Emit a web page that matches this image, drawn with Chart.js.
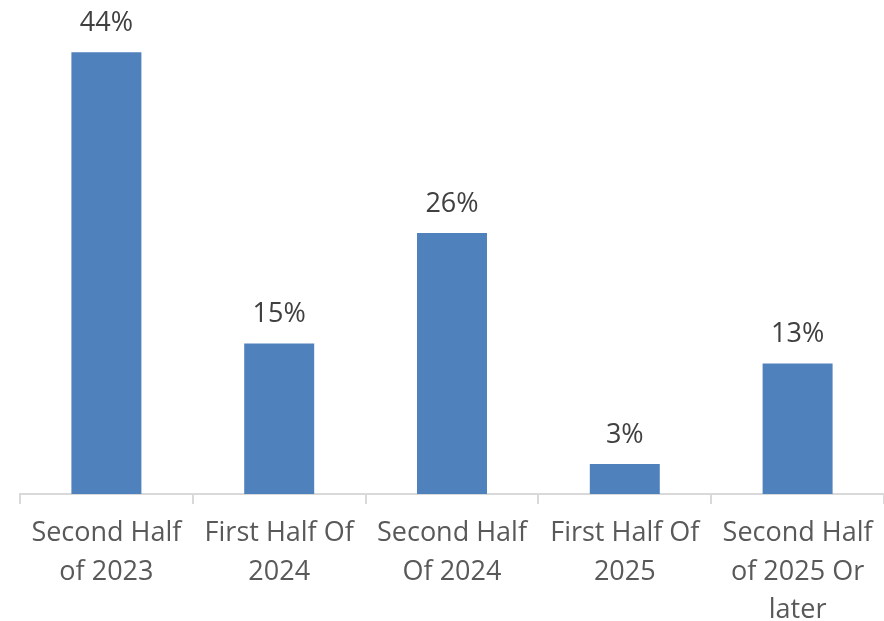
<!DOCTYPE html>
<html>
<head>
<meta charset="utf-8">
<script src="https://cdn.jsdelivr.net/npm/chart.js@4/dist/chart.umd.min.js"></script>
<style>
  body { margin: 0; background: #fff; }
  #wrap { width: 884px; height: 621px; }
</style>
</head>
<body>
<div id="wrap"><canvas id="myBarChart" width="884" height="621"></canvas></div>
<script>
// timeline buckets and share of answers
const periods = [
    ['Second Half', 'of 2023'],
    ['First Half Of', '2024'],
    ['Second Half', 'Of 2024'],
    ['First Half Of', '2025'],
    ['Second Half', 'of 2025 Or', 'later']
];
const shares = [44, 15, 26, 3, 13];

const FONT = "'Open Sans', 'Noto Sans', sans-serif";

// draws the "44%" style labels on top of each bar
const valueLabels = {
    id: 'valueLabels',
    afterDatasetsDraw(chart) {
        const ctx = chart.ctx;
        const meta = chart.getDatasetMeta(0);
        ctx.save();
        ctx.font = '27px ' + FONT;
        ctx.fillStyle = '#404040';
        ctx.textAlign = 'center';
        ctx.textBaseline = 'alphabetic';
        meta.data.forEach((bar, i) => {
            ctx.fillText(shares[i] + '%', bar.x, bar.y - 21);
        });
        ctx.restore();
    }
};

var ctx = document.getElementById('myBarChart').getContext('2d');

var myBarChart = new Chart(ctx, {
    type: 'bar',
    data: {
        labels: periods,
        datasets: [{
            data: shares,
            backgroundColor: '#4f81bd',
            borderWidth: 0,
            categoryPercentage: 1,
            barPercentage: 0.405
        }]
    },
    options: {
        responsive: false,
        animation: false,
        layout: { padding: { left: 20, right: 0, top: 0, bottom: 0 } },
        plugins: {
            legend: { display: false },
            tooltip: { enabled: false }
        },
        scales: {
            x: {
                grid: {
                    display: true,
                    drawOnChartArea: false,
                    drawTicks: true,
                    tickLength: 10,
                    color: '#d9d9d9',
                    lineWidth: 2
                },
                border: { color: '#d9d9d9', width: 2 },
                ticks: {
                    color: '#595959',
                    font: { family: FONT, size: 27, lineHeight: 1.43 },
                    padding: 10,
                    maxRotation: 0,
                    autoSkip: false
                },
                afterFit(scale) {
                    scale.height = 127;
                }
            },
            y: {
                display: false,
                min: 0,
                max: 49.2
            }
        }
    },
    plugins: [valueLabels]
});
</script>
</body>
</html>
